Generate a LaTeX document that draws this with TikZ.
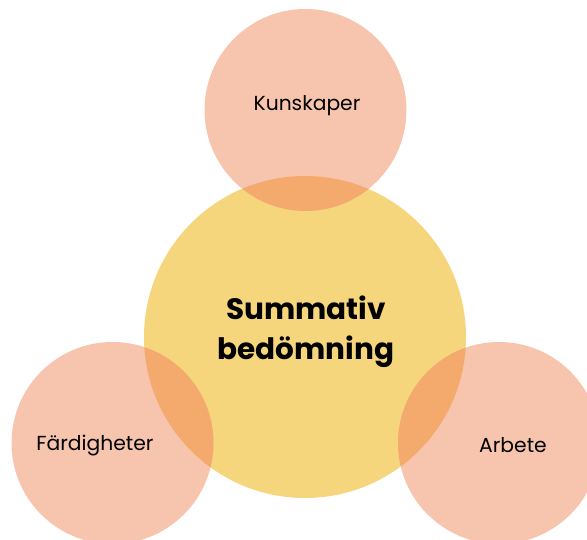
\documentclass[tikz,border=0pt]{standalone}
\usepackage{fontspec}
\setmainfont{Poppins}
\usepackage{tikz}
\usepackage{xcolor}

\definecolor{gul}{HTML}{F5D67C}
\definecolor{rosa}{HTML}{F7C5AE}
\definecolor{overlapp}{HTML}{F4A96D}

\begin{document}
\begin{tikzpicture}[x=1pt, y=1pt,
            liten/.style={circle, fill=rosa, minimum size=202pt, inner sep=0pt},
            stor/.style={circle, fill=gul, minimum size=322pt, inner sep=0pt},
            etikett/.style={font=\fontsize{20.3}{24}\selectfont},
            rubrik/.style={font=\fontsize{29.5}{40}\selectfont\bfseries, align=center}]
            \useasboundingbox (0,0) rectangle (587,539);

            \node[stor] (summ) at (305,202) {};
            \node[liten] (kunsk) at (305.5,429) {};
            \node[liten] (fard) at (112.5,96) {};
            \node[liten] (arb) at (499,96) {};

            % overlappning
            \begin{scope}
            \clip (summ.center) circle (161pt);
            \fill[overlapp] (kunsk.center) circle (101pt);
            \fill[overlapp] (fard.center) circle (101pt);
            \fill[overlapp] (arb.center) circle (101pt);
            \end{scope}

            \node[rubrik] (summtext) at (306,207) {Summativ\\bedömning};
            \node[etikett] (kunsktext) at (307,433) {Kunskaper};
            \node[etikett] (fardtext) at (95,93) {Färdigheter};
            \node[etikett] (arbtext) at (513,94) {Arbete};
        \end{tikzpicture}
\end{document}
